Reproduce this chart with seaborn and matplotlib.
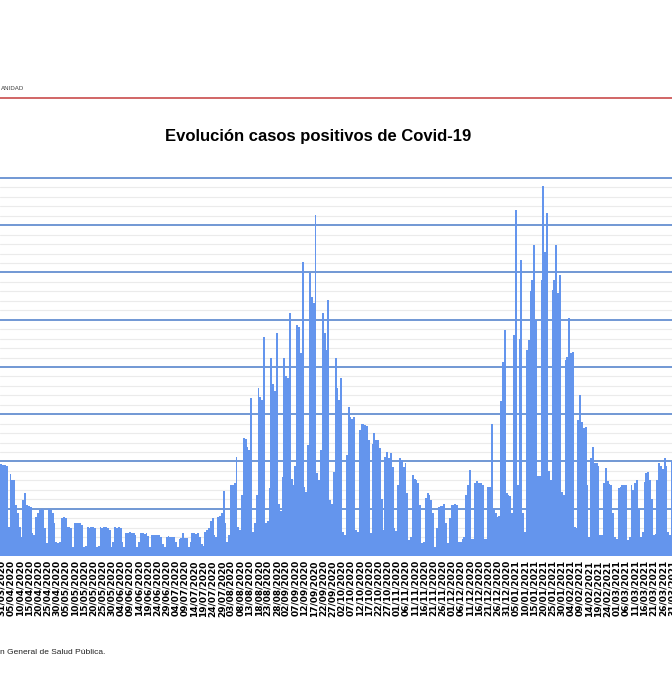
import pandas as pd
import numpy as np
import matplotlib
matplotlib.use('Agg')
import matplotlib.pyplot as plt
import seaborn as sns
from matplotlib.ticker import MultipleLocator
from matplotlib.lines import Line2D

# primer dia de la serie (27/03/2020), un valor por dia
fecha_inicio = '2020-03-27'
casos = [
    800, 600, 1900, 1950, 1950, 1930, 1930,
    1900, 620, 1730, 1600, 1600, 1080, 900,
    620, 400, 1180, 1340, 1080, 1050, 1040,
    480, 450, 830, 900, 970, 1000, 970,
    600, 270, 1000, 970, 900, 690, 300,
    270, 300, 800, 820, 800, 620, 620,
    600, 200, 690, 690, 700, 690, 660,
    200, 220, 620, 600, 620, 620, 600,
    200, 220, 620, 600, 620, 620, 600,
    560, 200, 300, 620, 600, 620, 600,
    300, 200, 480, 480, 500, 480, 480,
    450, 200, 300, 480, 480, 460, 480,
    420, 200, 440, 440, 450, 440, 440,
    400, 250, 200, 410, 420, 410, 400,
    400, 300, 200, 370, 380, 480, 380,
    380, 200, 300, 480, 480, 470, 480,
    400, 250, 220, 500, 550, 600, 750,
    800, 450, 400, 830, 850, 900, 1380,
    700, 300, 450, 1500, 1500, 1550, 2100,
    620, 550, 1300, 2500, 2480, 2300, 2250,
    3340, 500, 700, 1300, 3550, 3370, 3300,
    4640, 700, 750, 1430, 4200, 3650, 3500,
    4710, 1100, 950, 1680, 4200, 3800, 3760,
    5140, 1640, 1500, 1900, 4890, 4850, 4290,
    6230, 1470, 1350, 2350, 5980, 5490, 5350,
    7220, 1750, 1600, 2240, 5140, 4710, 4360,
    5420, 1190, 1100, 1780, 4180, 3550, 3300,
    3760, 500, 450, 2140, 3160, 2950, 2900,
    2950, 550, 500, 2670, 2800, 2800, 2770,
    2750, 2460, 480, 2380, 2600, 2450, 2450,
    2280, 1200, 550, 2100, 2200, 2070, 2190,
    1890, 600, 520, 1500, 2070, 2040, 1890,
    1960, 1330, 340, 400, 1710, 1640, 1600,
    1540, 1080, 270, 300, 1220, 1330, 1300,
    1190, 900, 200, 600, 1040, 1050, 1050,
    1100, 700, 270, 800, 1080, 1080, 1100,
    1080, 300, 300, 370, 400, 1290, 1500,
    1820, 370, 370, 1540, 1580, 1540, 1550,
    1500, 370, 370, 1470, 1470, 2800, 1000,
    900, 830, 850, 3270, 4110, 4780, 1330,
    1300, 1260, 900, 4680, 7320, 1500, 4600,
    6260, 900, 500, 4360, 4570, 5600, 5840,
    6580, 5000, 1700, 1700, 5840, 7820, 6440,
    7250, 1800, 1600, 5630, 5840, 6580, 5560,
    5950, 1360, 1300, 4150, 4220, 5030, 4290,
    4320, 620, 600, 2880, 3410, 2840, 2700,
    2740, 1500, 410, 2070, 2310, 1960, 1960,
    1900, 440, 440, 1540, 1860, 1580, 1520,
    1500, 900, 400, 370, 1430, 1460, 1500,
    1500, 1500, 340, 400, 1500, 1400, 1540,
    1610, 1000, 400, 500, 1570, 1750, 1780,
    1600, 1200, 450, 470, 1610, 1960, 1900,
    1850, 2070, 1900, 500, 450, 2000,
]

titulo = 'Evolución casos positivos de Covid-19'
# la pagina original esta recortada por la izquierda
cabecera = 'ANIDAD'
fuente = 'n General de Salud Pública.'

fechas = pd.date_range(fecha_inicio, periods=len(casos), freq='D')
df = pd.DataFrame({'fecha': fechas.strftime('%d/%m/%Y'), 'casos': casos})

sns.set_theme(style='white')
plt.rcParams['font.family'] = ['Liberation Sans', 'DejaVu Sans']

W, H = 672, 700
fig = plt.figure(figsize=(W / 100, H / 100), dpi=100)
fig.patch.set_facecolor('white')

# area de trazado a todo el ancho (el eje Y queda fuera del recorte)
y_base, y_top = 556, 175.6
ax = fig.add_axes([0, (H - y_base) / H, 1, (y_base - y_top) / H])

sns.barplot(data=df, x='fecha', y='casos', color='#6495ED', saturation=1,
            width=1.0, linewidth=0, errorbar=None, ax=ax)

ax.set_xlim(3.3, 367.2)
ax.set_ylim(0, 8050)
ax.set_yticks(np.arange(0, 8001, 1000))
ax.yaxis.set_minor_locator(MultipleLocator(200))
ax.grid(axis='y', which='minor', color='#ebebeb', linewidth=0.8)
ax.grid(axis='y', which='major', color='#4a7cc9', linewidth=1.1)
ax.grid(axis='x', visible=False)
ax.set_axisbelow(True)
ax.tick_params(axis='y', which='both', labelleft=False, length=0)
for s in ax.spines.values():
    s.set_visible(False)
ax.set_xlabel('')
ax.set_ylabel('')

# etiquetas cada 5 dias
pos = [i for i in range(len(df)) if (i - 4) % 5 == 0]
ax.set_xticks(pos)
ax.set_xticklabels(df['fecha'].iloc[pos], rotation=90, fontsize=6.5,
                   fontweight='bold', color='black', family='DejaVu Sans')
ax.tick_params(axis='x', length=0, pad=3)

fig.text(318.5 / W, (H - 136) / H, titulo, ha='center', va='center',
         fontsize=12, fontweight='bold', color='black')

fig.add_artist(Line2D([0, 1], [(H - 97.7) / H] * 2, transform=fig.transFigure,
                      color='#c94c4c', linewidth=1.2))
fig.text(0.5 / W, (H - 88) / H, cabecera, ha='left', va='center',
         fontsize=4.4, color='#404040')
fig.text(0.5 / W, (H - 653) / H, fuente, ha='left', va='center',
         fontsize=6, color='#222222')

fig.savefig('out.png', dpi=100)
